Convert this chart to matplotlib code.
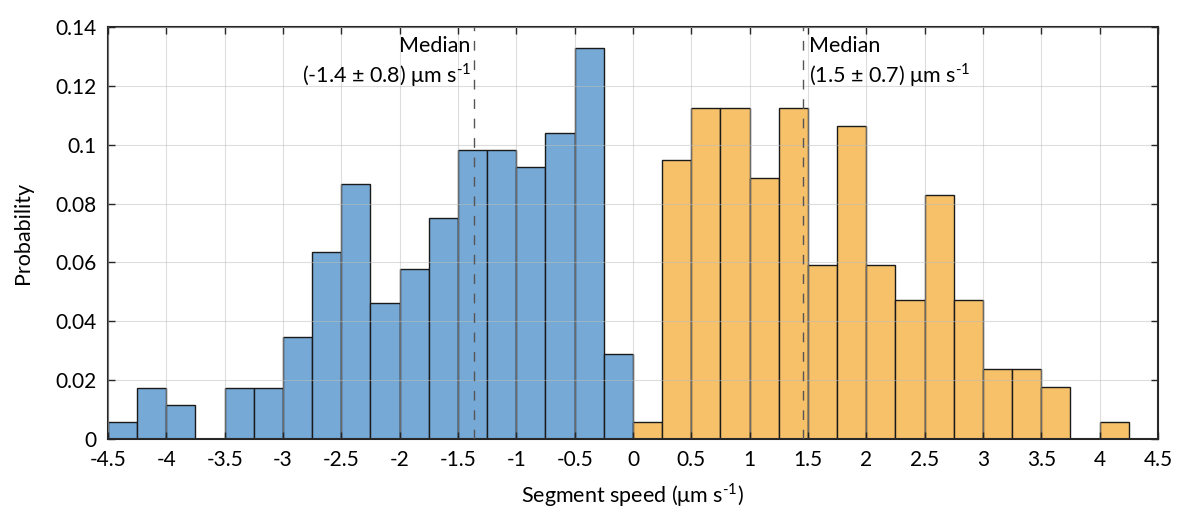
import numpy as np
import matplotlib
matplotlib.use("Agg")
import matplotlib.pyplot as plt

# bin edges, 0.25 wide
neg_edges = np.arange(-4.5, 0.001, 0.25)
pos_edges = np.arange(0.0, 4.501, 0.25)

neg_prob = [0.0057, 0.0173, 0.0115, 0.0, 0.0173, 0.0173, 0.0347, 0.0636, 0.0867,
            0.0462, 0.0578, 0.0751, 0.0983, 0.0983, 0.0925, 0.1040, 0.1329, 0.0289]
pos_prob = [0.0059, 0.0947, 0.1124, 0.1124, 0.0888, 0.1124, 0.0592, 0.1065, 0.0592,
            0.0473, 0.0828, 0.0473, 0.0237, 0.0237, 0.0178, 0.0, 0.0059, 0.0]

unit = "μm s$^{\\text{-}1}$"
neg_median, neg_label = -1.36, "Median\n(-1.4 $\\pm$ 0.8) " + unit
pos_median, pos_label = 1.46, "Median\n(1.5 $\\pm$ 0.7) " + unit

xticks = np.arange(-4.5, 4.501, 0.5)
yticks = np.arange(0, 0.1401, 0.02)

plt.rcParams["font.family"] = ["Lato", "DejaVu Sans"]
plt.rcParams["mathtext.fontset"] = "custom"
plt.rcParams["mathtext.rm"] = "Lato"

fig = plt.figure(figsize=(11.84, 5.09), dpi=100)
ax = fig.add_axes([0.0912, 0.1375, 0.8868, 0.8095])

ax.bar(neg_edges[:-1], neg_prob, width=0.25, align="edge", color="#76a9d6",
       edgecolor="#1a1a1a", lw=1, zorder=2)
ax.bar(pos_edges[:-1], pos_prob, width=0.25, align="edge", color="#f7c16a",
       edgecolor="#1a1a1a", lw=1, zorder=2)

ax.grid(True, color="#bdbdbd", lw=0.8, alpha=0.5, zorder=3)
ax.set_axisbelow(False)

for m in (neg_median, pos_median):
    ax.axvline(m, color="#555555", lw=1, ls=(0, (7, 7)), zorder=4)
ax.text(neg_median - 0.03, 0.1368, neg_label, ha="right", va="top", fontsize=15.5,
        linespacing=1.2, zorder=5)
ax.text(pos_median + 0.05, 0.1368, pos_label, ha="left", va="top", fontsize=15.5,
        linespacing=1.2, zorder=5)

ax.set_xlim(-4.5, 4.5)
ax.set_ylim(0, 0.14)
ax.set_xticks(xticks)
ax.set_xticklabels([f"{v:g}".replace("\u2212", "-") for v in xticks])
ax.set_yticks(yticks)
ax.set_yticklabels([f"{v:g}" for v in yticks])
ax.tick_params(direction="in", top=True, right=True, labelsize=15, length=5,
               width=1, color="#262626")
ax.tick_params(axis="x", pad=8)
ax.tick_params(axis="y", pad=8)
for s in ax.spines.values():
    s.set_linewidth(1.5)
    s.set_color("#262626")

ax.set_xlabel("Segment speed (" + unit + ")", fontsize=15.5, labelpad=8)
ax.set_ylabel("Probability", fontsize=15.5, labelpad=16)

fig.savefig("out.png", dpi=100)
